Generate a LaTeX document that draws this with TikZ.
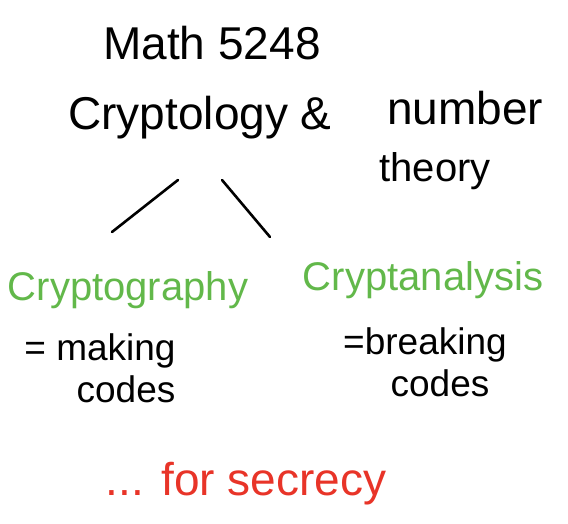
\documentclass[tikz,border=0pt]{standalone}
\usepackage{fontspec}
\setmainfont{Liberation Sans}
\usepackage{tikz}
\usetikzlibrary{calc}
\definecolor{notegreen}{RGB}{98,184,74}
\definecolor{notered}{RGB}{232,52,40}
\tikzset{
  ink/.style={anchor=base, inner sep=0pt, font=\fontsize{40}{44}\selectfont},
  bigink/.style={ink, font=\fontsize{46}{50}\selectfont},
  smallink/.style={ink, font=\fontsize{37}{40}\selectfont},
  branch/.style={line width=2.6pt, line cap=round}
}

\begin{document}
\begin{tikzpicture}[x=1pt, y=-1pt]
        \useasboundingbox (0, 0) rectangle (568, 524);
        \node[bigink] (title) at (212, 60) {Math 5248};
        \node[bigink] (crypt) at (200, 130) {Cryptology \&};
        \node[bigink] (number) at (465, 125) {number};
        \node[ink] (theory) at (435, 182) {theory};
        \coordinate (L1) at (178, 180); \coordinate (L2) at (112, 232);
        \coordinate (R1) at (222, 180); \coordinate (R2) at (270, 237);
        \draw[branch] (L1) -- (L2); \draw[branch] (R1) -- (R2);
        \node[ink, notegreen] (graphy) at (128, 300) {Cryptography};
        \node[ink, notegreen] (anal) at (423, 290) {Cryptanalysis};
        \node[smallink] (making) at (100, 360) {= making};
        \node[smallink] (codesL) at (126, 402) {codes};
        \node[smallink] (breaking) at (425, 354) {=breaking};
        \node[smallink] (codesR) at (440, 396) {codes};
        \node[bigink, notered] (secrecy) at (246, 495) {... for secrecy};
    \end{tikzpicture}
\end{document}
